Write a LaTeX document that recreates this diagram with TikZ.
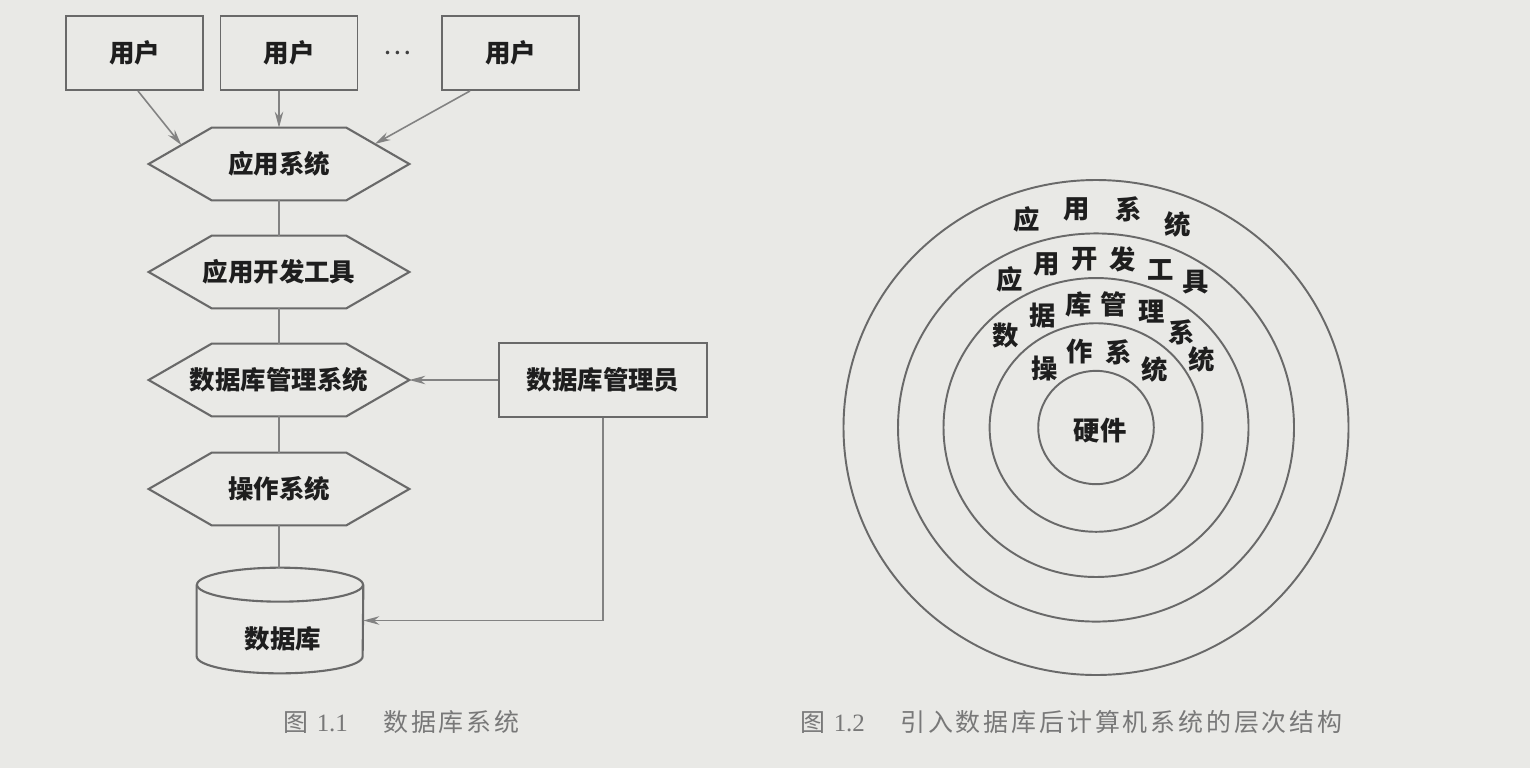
\documentclass[tikz,border=0pt]{standalone}
\usepackage{fontspec}
\setmainfont{Liberation Serif}
\newfontfamily\cjk{Noto Sans CJK SC}
\newfontfamily\capcjk[LetterSpace=11.5]{Noto Sans CJK SC}
\usetikzlibrary{arrows.meta,calc}
\definecolor{bg}{RGB}{233,233,230}
\definecolor{ln}{RGB}{105,105,105}
\definecolor{al}{RGB}{130,130,130}
\definecolor{tx}{RGB}{30,30,30}
\definecolor{capc}{RGB}{120,120,120}
\newcommand\hexdraw[1]{\draw[hexline] (#1.west) -- ([xshift=1.26cm]#1.north west) -- ([xshift=-1.26cm]#1.north east) -- (#1.east) -- ([xshift=-1.26cm]#1.south east) -- ([xshift=1.26cm]#1.south west) -- cycle;}
\begin{document}
\begin{tikzpicture}[x=0.02cm,y=-0.02cm,
  lbl/.style={font=\cjk\bfseries\fontsize{14.5}{16}\selectfont, text=tx},
  box/.style={lbl, draw=ln, line width=1.1pt, minimum width=2.74cm, minimum height=1.48cm, inner sep=0pt},
  hexa/.style={lbl, minimum width=5.2cm, minimum height=1.44cm, inner sep=0pt},
  hexline/.style={draw=ln, line width=1.2pt},
  arr/.style={draw=al, line width=0.9pt, -{Stealth[length=0.32cm,width=0.17cm]}},
  link/.style={draw=al, line width=0.9pt},
  ring/.style={draw=ln, line width=1.1pt},
  rc/.style={font=\cjk\bfseries\fontsize{15}{16}\selectfont, text=tx, inner sep=0pt},
  captxt/.style={font=\capcjk\fontsize{14.2}{15}\selectfont, text=capc, inner sep=0pt, anchor=west}
]
\fill[bg] (0,0) rectangle (1530,768);
\useasboundingbox (0,0) rectangle (1530,768);

% ---- Figure 1.1 ----
\node[box] (u1) at (134.5,53) {用户};
\node[box] (u2) at (289,53) {用户};
\node[box] (u3) at (510.5,53) {用户};
\node[font=\cjk\fontsize{15}{16}\selectfont, text=tx!85, inner sep=0pt] (dots) at (397,53) {⋯};

\node[hexa] (h1) at (279,164) {应用系统};
\node[hexa] (h2) at (279,272) {应用开发工具};
\node[hexa] (h3) at (279,380) {数据库管理系统};
\node[hexa] (h4) at (279,489) {操作系统};
\hexdraw{h1}\hexdraw{h2}\hexdraw{h3}\hexdraw{h4}

\node[box, minimum width=4.16cm] (admin) at (603,380) {数据库管理员};

\node[minimum width=3.32cm, minimum height=2.1cm, inner sep=0pt] (db) at (280,620.5) {};
\draw[hexline] ([yshift=-0.34cm]db.north west) -- ([yshift=0.34cm]db.south west)
  arc[start angle=180,end angle=360,x radius=1.66cm,y radius=0.34cm] -- ([yshift=-0.34cm]db.north east);
\draw[hexline] ([yshift=-0.34cm]db.north) ellipse[x radius=1.66cm, y radius=0.34cm];
\node[lbl] (dbt) at (283,639) {数据库};

\draw[arr] ([xshift=0.07cm]u1.south) -- ($(h1.west)!0.52!([xshift=1.26cm]h1.north west)$);
\draw[arr] (h1.north |- u2.south) -- (h1.north);
\draw[arr] ([xshift=-0.81cm]u3.south) -- ($(h1.east)!0.55!([xshift=-1.26cm]h1.north east)$);
\draw[link] (h1.south) -- (h2.north);
\draw[link] (h2.south) -- (h3.north);
\draw[link] (h3.south) -- (h4.north);
\draw[link] (h4.south) -- (h4.south |- db.north);
\draw[arr] (admin.west) -- (h3.east);
\draw[arr] (admin.south) |- (db.east);

\node[captxt] (cap1) at (283,722) {\makebox[2cm][l]{图 {\rmfamily 1.1}}数据库系统};

% ---- Figure 1.2 ----
\foreach \r in {252.5,198,152.5,106.4,57.8}
  \draw[ring] (1096,427.5) ellipse[x radius=\r*0.02cm, y radius=\r*0.0196cm];

\node[rc] (a1) at (1027,219) {应};
\node[rc] (a2) at (1077,209) {用};
\node[rc] (a3) at (1129,209) {系};
\node[rc] (a4) at (1178,224) {统};

\node[rc] (b1) at (1010,279) {应};
\node[rc] (b2) at (1047,264) {用};
\node[rc] (b3) at (1085,259) {开};
\node[rc] (b4) at (1123,259) {发};
\node[rc] (b5) at (1161,270) {工};
\node[rc] (b6) at (1196,282) {具};

\node[rc] (c1) at (1006,336) {数};
\node[rc] (c2) at (1043,316) {据};
\node[rc] (c3) at (1079,304) {库};
\node[rc] (c4) at (1114,304) {管};
\node[rc] (c5) at (1152,312) {理};
\node[rc] (c6) at (1182,332) {系};
\node[rc] (c7) at (1202,359) {统};

\node[rc] (d1) at (1045,369) {操};
\node[rc] (d2) at (1080,352) {作};
\node[rc] (d3) at (1119,352) {系};
\node[rc] (d4) at (1155,369) {统};

\node[rc] (hw) at (1100,431) {硬件};

\node[captxt] (cap2) at (800,722) {\makebox[2cm][l]{图 {\rmfamily 1.2}}引入数据库后计算机系统的层次结构};
\end{tikzpicture}
\end{document}
